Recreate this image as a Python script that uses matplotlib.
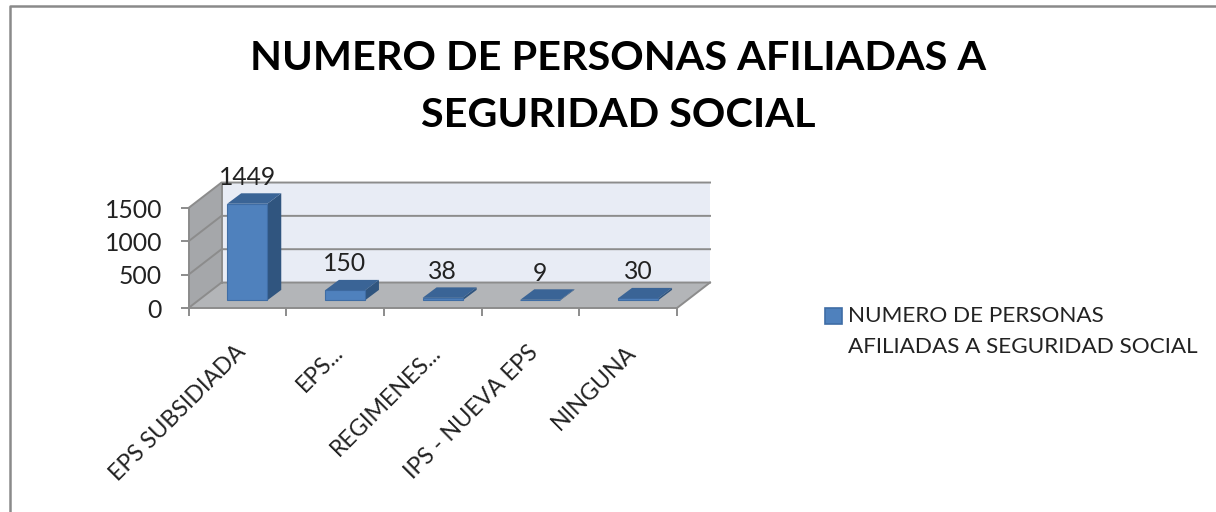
import matplotlib
matplotlib.use("Agg")
import matplotlib.pyplot as plt
from matplotlib.lines import Line2D
from matplotlib.patches import Polygon, Rectangle
from matplotlib.transforms import ScaledTranslation

plt.rcParams["font.family"] = ["Lato", "DejaVu Sans"]

categories = ["EPS SUBSIDIADA", "EPS...", "REGIMENES...", "IPS - NUEVA EPS", "NINGUNA"]
values = [1449, 150, 38, 9, 30]
y_ticks = [0, 500, 1000, 1500]
series_name = "NUMERO DE PERSONAS\nAFILIADAS A SEGURIDAD SOCIAL"
title = "NUMERO DE PERSONAS AFILIADAS A\nSEGURIDAD SOCIAL"

W, H = 1216, 512
fig = plt.figure(figsize=(W / 100, H / 100), dpi=100)
ax = fig.add_axes([188.5 / W, (H - 308) / H, 488.5 / W, 100 / H])
ax.patch.set_visible(False)
ax.set_xlim(0, len(categories))
ax.set_ylim(0, 1500)

# fake 3d: depth of the box and of the bars, in data units
dx, dy = 0.338, 382
bar_w, bar_dx, bar_dy = 0.41, 0.143, 157
inset = 0.3
grey = "#8c8c8c"
text_col = "#222222"
n = len(categories)


def poly(pts, color, z, edge="none"):
    ax.add_patch(Polygon(pts, closed=True, facecolor=color, edgecolor=edge,
                         linewidth=0.8, zorder=z, clip_on=False))


poly([(dx, dy), (n + dx, dy), (n + dx, 1500 + dy), (dx, 1500 + dy)], "#e8ecf5", 1)
poly([(0, 0), (dx, dy), (dx, 1500 + dy), (0, 1500)], "#a5a7aa", 1)
poly([(0, 0), (n, 0), (n + dx, dy), (dx, dy)], "#b3b5b8", 1)

for t in y_ticks:
    ax.plot([0, dx, n + dx], [t, t + dy, t + dy], color=grey, lw=1.4, zorder=2,
            clip_on=False)
ax.plot([0, 0], [0, 1500], color=grey, lw=1.4, zorder=2, clip_on=False)
ax.plot([dx, dx], [dy, 1500 + dy], color=grey, lw=1.4, zorder=2, clip_on=False)
ax.plot([n, n + dx], [0, dy], color=grey, lw=1.4, zorder=2, clip_on=False)

# bars
for i, v in enumerate(values):
    x0 = i + 0.5 + inset * dx - bar_w / 2
    x1 = x0 + bar_w
    y0 = inset * dy
    y1 = y0 + v
    ax.bar(x0 + bar_w / 2, v, width=bar_w, bottom=y0, color="#4f81bd",
           edgecolor="#3f6da5", linewidth=0.8, zorder=4, clip_on=False)
    poly([(x1, y0), (x1 + bar_dx, y0 + bar_dy), (x1 + bar_dx, y1 + bar_dy), (x1, y1)],
         "#30557f", 3)
    poly([(x0, y1), (x1, y1), (x1 + bar_dx, y1 + bar_dy), (x0 + bar_dx, y1 + bar_dy)],
         "#3a6496", 5)
    ax.annotate(str(v), (x0 + bar_w / 2, y1 + bar_dy), xytext=(0, 11.5),
                textcoords="offset points", ha="center", va="center",
                fontsize=17.8, color=text_col, zorder=6, annotation_clip=False)

for s in ax.spines.values():
    s.set_visible(False)
ax.set_xticks(range(n + 1))
ax.set_xticklabels([])
ax.set_xticks([i + 0.5 for i in range(n)], minor=True)
ax.set_xticklabels(categories, minor=True, rotation=45, ha="right",
                   rotation_mode="anchor", fontsize=16.7, color=text_col)
ax.tick_params(axis="x", which="major", length=6, width=1.4, color=grey)
ax.tick_params(axis="x", which="minor", length=0, pad=24)
shift = ScaledTranslation(-3 / 100, 0, fig.dpi_scale_trans)
for lab in ax.get_xticklabels(minor=True):
    lab.set_transform(lab.get_transform() + shift)
ax.set_yticks(y_ticks)
ax.tick_params(axis="y", length=6, width=1.4, color=grey, pad=13,
               labelsize=17.8, labelcolor=text_col)
ax.plot([0, n], [0, 0], color=grey, lw=1.4, zorder=3, clip_on=False)

fig.text(618 / W, 1 - 87 / H, title, ha="center", va="center", fontsize=29.8,
         fontweight="bold", color="black", linespacing=1.68)

# legend drawn by hand so the key lines up with the first text line
fig.add_artist(Rectangle((825 / W, 1 - 324 / H), 17 / W, 16 / H, transform=fig.transFigure,
                         facecolor="#4f81bd", edgecolor="#3f6da5", linewidth=1.2))
fig.text(848 / W, 1 - 331.5 / H, series_name, ha="left", va="center", fontsize=16.2,
         color=text_col, linespacing=1.72)

# chart frame
fig.add_artist(Line2D([10 / W, 10 / W, 1], [0, 1 - 6 / H, 1 - 6 / H], color="#8a8a8a", lw=1.8))

fig.savefig("out.png", dpi=100)
